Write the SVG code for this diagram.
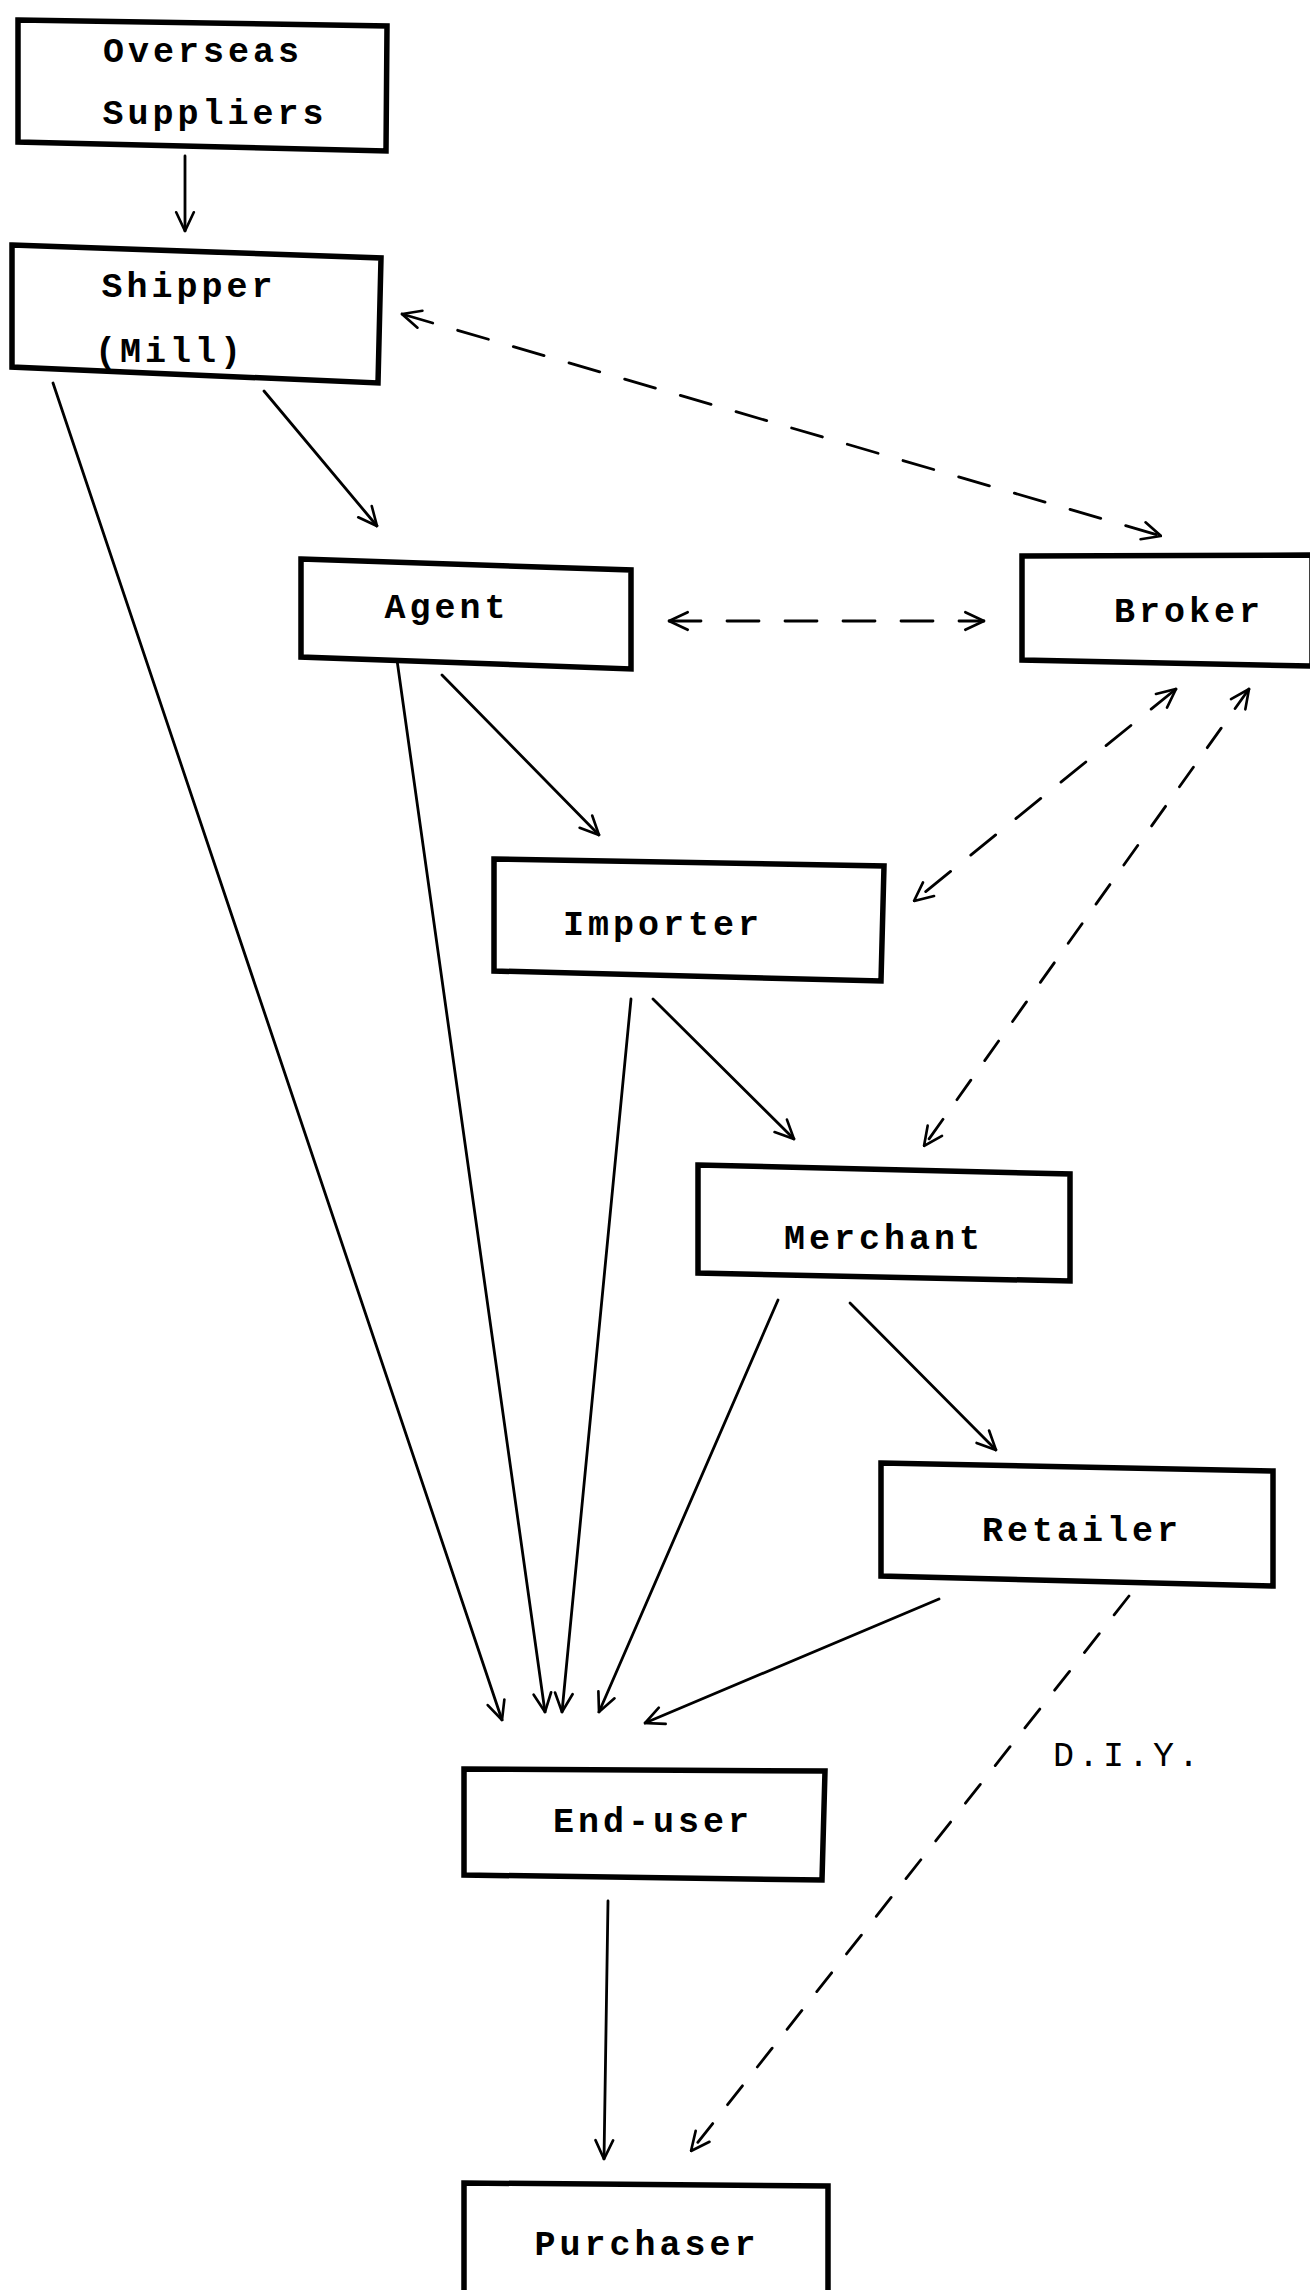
<svg xmlns="http://www.w3.org/2000/svg" width="1310" height="2290" viewBox="0 0 1310 2290">
<style>
.box{fill:#fff;stroke:#000;stroke-width:5.5;stroke-linejoin:miter}
.lbl{font-family:"Liberation Mono","Courier New",monospace;font-size:35px;font-weight:bold;letter-spacing:4px;text-anchor:middle;fill:#000}
.c{fill:none;stroke:#000;stroke-width:2.8;stroke-linecap:round}
.d{stroke-dasharray:32 26}
.d2{stroke-dasharray:24 24}
</style>
<defs>
<marker id="ah" viewBox="0 0 20 20" refX="19" refY="10" markerWidth="22" markerHeight="22" markerUnits="userSpaceOnUse" orient="auto-start-reverse">
<path d="M2,2 L19,10 L2,18" fill="none" stroke="#000" stroke-width="2.4" stroke-linecap="round"/>
</marker>
</defs>
<rect width="1310" height="2290" fill="#fff"/>
<g id="connectors">
<line class="c" x1="185" y1="156" x2="185" y2="231" marker-end="url(#ah)"/>
<line class="c d" x1="402" y1="314" x2="1161" y2="536" marker-start="url(#ah)" marker-end="url(#ah)"/>
<line class="c" x1="264" y1="391" x2="377" y2="526" marker-end="url(#ah)"/>
<line class="c" x1="53" y1="383" x2="502" y2="1720" marker-end="url(#ah)"/>
<line class="c d" x1="669" y1="621" x2="984" y2="621" marker-start="url(#ah)" marker-end="url(#ah)"/>
<line class="c" x1="397" y1="660" x2="545" y2="1712" marker-end="url(#ah)"/>
<line class="c" x1="442" y1="675" x2="599" y2="835" marker-end="url(#ah)"/>
<line class="c d" x1="1176" y1="689" x2="914" y2="901" marker-start="url(#ah)" marker-end="url(#ah)"/>
<line class="c d2" x1="1249" y1="689" x2="924" y2="1146" marker-start="url(#ah)" marker-end="url(#ah)"/>
<line class="c" x1="631" y1="999" x2="562" y2="1712" marker-end="url(#ah)"/>
<line class="c" x1="653" y1="999" x2="794" y2="1139" marker-end="url(#ah)"/>
<line class="c" x1="778" y1="1300" x2="599" y2="1712" marker-end="url(#ah)"/>
<line class="c" x1="850" y1="1303" x2="996" y2="1450" marker-end="url(#ah)"/>
<line class="c" x1="939" y1="1599" x2="645" y2="1723" marker-end="url(#ah)"/>
<line class="c d2" x1="1129" y1="1596" x2="691" y2="2151" marker-end="url(#ah)"/>
<line class="c" x1="608" y1="1901" x2="604" y2="2159" marker-end="url(#ah)"/>
</g>
<g id="overseas">
<polygon class="box" points="18,20 387,26 386,151 18,142"/>
<text class="lbl" x="203" y="62">Overseas</text>
<text class="lbl" x="215" y="124">Suppliers</text>
</g>
<g id="shipper">
<polygon class="box" points="12,245 381,258 378,383 12,367"/>
<text class="lbl" x="189" y="297">Shipper</text>
<text class="lbl" x="170" y="362">(Mill)</text>
</g>
<g id="agent">
<polygon class="box" points="301,559 631,570 631,669 301,657"/>
<text class="lbl" x="447" y="618">Agent</text>
</g>
<g id="broker">
<polygon class="box" points="1022,556 1312,555 1312,666 1022,660"/>
<text class="lbl" x="1189" y="622">Broker</text>
</g>
<g id="importer">
<polygon class="box" points="494,859 884,866 881,981 494,971"/>
<text class="lbl" x="663" y="935">Importer</text>
</g>
<g id="merchant">
<polygon class="box" points="698,1165 1070,1174 1070,1281 698,1273"/>
<text class="lbl" x="884" y="1249">Merchant</text>
</g>
<g id="retailer">
<polygon class="box" points="881,1463 1273,1471 1273,1586 881,1576"/>
<text class="lbl" x="1082" y="1541">Retailer</text>
</g>
<g id="enduser">
<polygon class="box" points="464,1769 825,1771 822,1880 464,1875"/>
<text class="lbl" x="653" y="1832">End-user</text>
</g>
<g id="purchaser">
<polygon class="box" points="464,2183 828,2186 828,2295 464,2295"/>
<text class="lbl" x="647" y="2255">Purchaser</text>
</g>
<text class="lbl" style="font-weight:normal" x="1128" y="1766">D.I.Y.</text>
</svg>
